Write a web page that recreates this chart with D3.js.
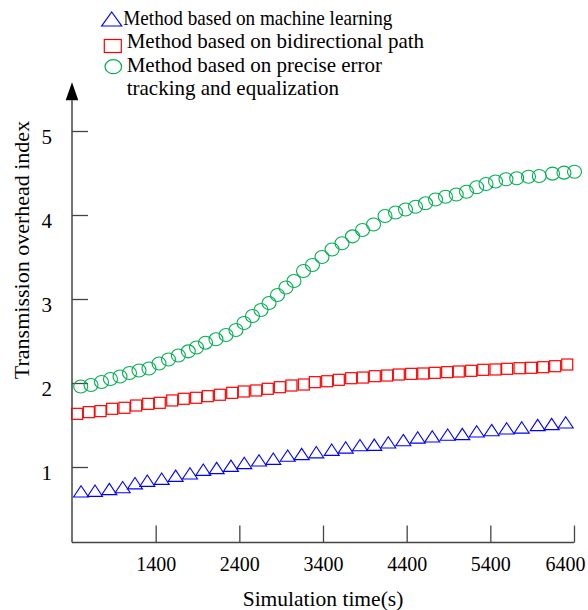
<!DOCTYPE html>
<html><head><meta charset="utf-8">
<script src="https://cdn.jsdelivr.net/npm/d3@7/dist/d3.min.js"></script>
<style>
body{margin:0;background:#fff;}
text{font-family:"Liberation Serif","Times New Roman",serif;fill:#000;}
</style>
</head><body>
<svg id="chart" width="588" height="610"></svg>
<script>
// ---------------- data ----------------
const seriesNames = [
  "Method based on machine learning",
  "Method based on bidirectional path",
  ["Method based on precise error", "tracking and equalization"]
];
const seriesColors = ["#0000ff", "#ff0000", "#00b050"];

const mlTimes  = [508,675,846,1006,1153,1300,1472,1639,1810,1969,2129,2300,2459,2635,2806,2978,3145,3320,3504,3671,3842,4013,4180,4360,4532,4706,4890,5065,5237,5416,5595,5775,5966,6133,6301];
const mlValues = [0.710,0.718,0.738,0.760,0.807,0.837,0.861,0.896,0.924,0.968,0.988,1.015,1.048,1.079,1.099,1.135,1.155,1.176,1.206,1.233,1.260,1.265,1.293,1.321,1.352,1.364,1.385,1.393,1.424,1.440,1.460,1.471,1.500,1.512,1.531];

const biTimes  = [462,601,741,880,1027,1167,1311,1449,1598,1736,1884,2023,2167,2315,2453,2602,2740,2884,3023,3171,3302,3450,3589,3737,3876,4019,4167,4306,4454,4598,4736,4884,5023,5171,5315,5462,5601,5749,5888,6031,6175,6319];
const biValues = [1.633,1.653,1.665,1.693,1.705,1.732,1.752,1.764,1.792,1.812,1.824,1.843,1.860,1.883,1.899,1.911,1.931,1.950,1.970,1.982,2.010,2.021,2.038,2.057,2.065,2.081,2.089,2.101,2.109,2.113,2.121,2.129,2.137,2.145,2.157,2.161,2.169,2.176,2.181,2.188,2.200,2.220];

const peTimes  = [504,627,753,860,974,1087,1201,1320,1440,1553,1671,1790,1888,1996,2121,2241,2360,2456,2557,2659,2755,2856,2958,3053,3167,3274,3388,3508,3627,3753,3872,4004,4141,4267,4386,4506,4625,4745,4864,4993,5115,5237,5348,5462,5587,5715,5856,5985,6143,6280,6406];
const peValues = [1.958,1.976,2.012,2.048,2.077,2.119,2.149,2.173,2.232,2.280,2.327,2.377,2.423,2.480,2.520,2.571,2.631,2.714,2.798,2.869,2.952,3.048,3.137,3.214,3.333,3.405,3.500,3.589,3.663,3.746,3.821,3.887,3.988,4.030,4.065,4.099,4.139,4.185,4.218,4.244,4.277,4.330,4.369,4.399,4.425,4.437,4.456,4.464,4.492,4.504,4.515];

const xTickValues = [1400,2400,3400,4400,5400,6400];
const yTickValues = [1,2,3,4,5];
const xDomain = [400, 6400];
const yAxisMin = 0.1;
const yAxisTop = 5.58;
const xTitle = "Simulation time(s)";
const yTitle = "Transmission overhead index";

// ---------------- drawing ----------------
const svg = d3.select("#chart");
const x = d3.scaleLinear().domain(xDomain).range([72, 574]);
const y = d3.scaleLinear().domain([0, 5]).range([551, 131]);
const axisColor = "#444";
const y0 = y(yAxisMin);

// x axis
const gx = svg.append("g").attr("transform", `translate(0,${y0})`)
  .call(d3.axisBottom(x).tickValues(xTickValues).tickFormat(d3.format("d"))
        .tickSizeInner(-17).tickSizeOuter(0).tickPadding(14));
gx.select(".domain").remove();
gx.selectAll(".tick line").attr("stroke", axisColor).attr("stroke-width", 1.3);
gx.selectAll(".tick text").style("font-size", "20px").attr("font-family", null);
// last label pulled inside the picture edge, as in the original
gx.selectAll(".tick text").filter(d => d === xTickValues[xTickValues.length - 1])
  .attr("text-anchor", "end").attr("x", 585 - x(xTickValues[xTickValues.length - 1]));

// y axis
const gy = svg.append("g").attr("transform", `translate(${x(xDomain[0])},0)`)
  .call(d3.axisLeft(y).tickValues(yTickValues).tickFormat(d3.format("d"))
        .tickSizeInner(-16).tickSizeOuter(0).tickPadding(20));
gy.select(".domain").remove();
gy.selectAll(".tick line").attr("stroke", axisColor).attr("stroke-width", 1.3);
gy.selectAll(".tick text").style("font-size", "21px").attr("dy", "0.58em").attr("font-family", null);

// axis lines
const arrowBase = y(yAxisTop) + 18;
svg.append("line").attr("x1", x(xDomain[0])).attr("x2", x(xDomain[1]))
  .attr("y1", y0).attr("y2", y0).attr("stroke", axisColor).attr("stroke-width", 1.5);
svg.append("line").attr("x1", x(xDomain[0])).attr("x2", x(xDomain[0]))
  .attr("y1", y0).attr("y2", arrowBase).attr("stroke", axisColor).attr("stroke-width", 1.5);
const ax = x(xDomain[0]);
svg.append("path")
  .attr("d", `M${ax},${y(yAxisTop)} L${ax-6.3},${arrowBase} L${ax+6.3},${arrowBase} Z`)
  .attr("fill", "#000");

// axis titles
svg.append("text").attr("x", 323).attr("y", 606).attr("text-anchor", "middle")
  .style("font-size", "21.5px").text(xTitle);
svg.append("text").attr("transform", "translate(29,250) rotate(-90)").attr("text-anchor", "middle")
  .style("font-size", "22px").text(yTitle);

// markers
const triPath = (w, h) => `M0,${-h/2} L${w/2},${h/2} L${-w/2},${h/2} Z`;

const ml = d3.zip(mlTimes, mlValues);
const bi = d3.zip(biTimes, biValues);
const pe = d3.zip(peTimes, peValues);

svg.append("g").selectAll("rect").data(bi).join("rect")
  .attr("x", d => x(d[0]) - 5.5).attr("y", d => y(d[1]) - 5.5)
  .attr("width", 11).attr("height", 11)
  .attr("fill", "none").attr("stroke", seriesColors[1]).attr("stroke-width", 1.2);

svg.append("g").selectAll("path").data(ml).join("path")
  .attr("d", triPath(15, 11.3))
  .attr("transform", d => `translate(${x(d[0])},${y(d[1])})`)
  .attr("fill", "none").attr("stroke", seriesColors[0]).attr("stroke-width", 1.1);

svg.append("g").selectAll("ellipse").data(pe).join("ellipse")
  .attr("cx", d => x(d[0])).attr("cy", d => y(d[1]))
  .attr("rx", 7).attr("ry", 6.5)
  .attr("fill", "none").attr("stroke", seriesColors[2]).attr("stroke-width", 1.1);

// legend
const lg = svg.append("g");
lg.append("path").attr("d", triPath(20, 14)).attr("transform", "translate(111.7,19)")
  .attr("fill", "none").attr("stroke", seriesColors[0]).attr("stroke-width", 1.2);
lg.append("rect").attr("x", 104.3).attr("y", 39.5).attr("width", 17).attr("height", 13)
  .attr("fill", "none").attr("stroke", seriesColors[1]).attr("stroke-width", 1.2);
lg.append("ellipse").attr("cx", 113.3).attr("cy", 66.7).attr("rx", 8.3).attr("ry", 7)
  .attr("fill", "none").attr("stroke", seriesColors[2]).attr("stroke-width", 1.2);
lg.append("text").attr("x", 123.3).attr("y", 25).style("font-size", "21px")
  .attr("textLength", 269).attr("lengthAdjust", "spacingAndGlyphs").text(seriesNames[0]);
lg.append("text").attr("x", 126.7).attr("y", 48).style("font-size", "21px").text(seriesNames[1]);
lg.append("text").attr("x", 126.7).attr("y", 72).style("font-size", "21px").text(seriesNames[2][0]);
lg.append("text").attr("x", 126.7).attr("y", 95).style("font-size", "21px").text(seriesNames[2][1]);
</script>
</body></html>
